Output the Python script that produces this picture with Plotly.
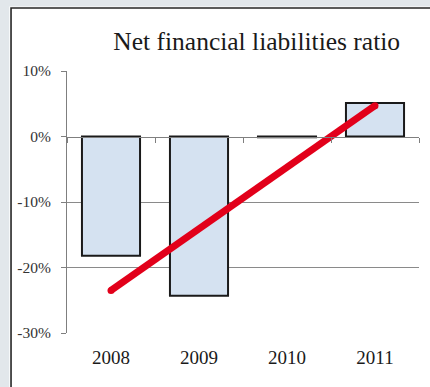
import plotly.graph_objects as go

# Net financial liabilities ratio, % of GDP
years = ["2008", "2009", "2010", "2011"]
ratio = [-18.2, -24.3, -0.1, 5.1]

# Linear trend across the period (start and end values)
trend_years = ["2008", "2011"]
trend_values = [-23.5, 4.7]

y_ticks = [10, 0, -10, -20, -30]
y_tick_labels = ["10%", "0%", "-10%", "-20%", "-30%"]
grid_values = [-10, -20]

SERIF = "Liberation Serif, Times New Roman, serif"
RED = "#e2001a"

fig = go.Figure()

fig.add_trace(go.Bar(
    x=years, y=ratio,
    marker=dict(color="#d5e2f1", line=dict(color="#1a1a1a", width=2)),
    width=0.66,
    xaxis="x", yaxis="y",
    hoverinfo="x+y",
))

fig.add_trace(go.Scatter(
    x=trend_years, y=trend_values,
    mode="lines+markers",
    line=dict(color=RED, width=7),
    marker=dict(color=RED, size=7, line=dict(width=0)),
    xaxis="x", yaxis="y",
    hoverinfo="skip",
))

# Carrier trace for the zero-line category axis
fig.add_trace(go.Scatter(
    x=years, y=[0] * len(years),
    mode="markers", marker=dict(opacity=0),
    xaxis="x2", yaxis="y",
    hoverinfo="skip", showlegend=False,
))

# Carrier trace for the grid-only axis
fig.add_trace(go.Scatter(
    x=years[:1], y=grid_values[:1],
    mode="markers", marker=dict(opacity=0),
    xaxis="x", yaxis="y2",
    hoverinfo="skip", showlegend=False,
))

yrange = [-30, 10]
zero_pos = (0 - yrange[0]) / (yrange[1] - yrange[0])

fig.update_layout(
    width=430, height=387,
    margin=dict(l=67, r=11, t=71, b=54),
    paper_bgcolor="#e2e7eb",
    plot_bgcolor="rgba(0,0,0,0)",
    showlegend=False,
    bargap=0.34,
    title=dict(
        text="Net financial liabilities ratio",
        font=dict(family=SERIF, size=25.5, color="#1a1a1a"),
        x=0.597, xanchor="center", y=0.893, yanchor="middle",
    ),
    xaxis=dict(
        type="category", categoryorder="array", categoryarray=years,
        range=[-0.5, 3.5],
        showline=False, showgrid=False, zeroline=False,
        ticks="", ticklabelstandoff=11,
        tickfont=dict(family=SERIF, size=19, color="#1a1a1a"),
    ),
    xaxis2=dict(
        type="category", categoryorder="array", categoryarray=years,
        range=[-0.5, 3.5],
        overlaying="x", anchor="free", position=zero_pos,
        showline=True, linecolor="#7f7f7f", linewidth=1.2,
        ticks="outside", tickson="boundaries", ticklen=5,
        tickcolor="#7f7f7f", tickwidth=1.2,
        showticklabels=False, showgrid=False, zeroline=False,
    ),
    yaxis=dict(
        range=yrange,
        tickvals=y_ticks, ticktext=y_tick_labels,
        showline=True, linecolor="#7f7f7f", linewidth=1.2,
        ticks="outside", ticklen=5, tickcolor="#7f7f7f", tickwidth=1.2,
        ticklabelstandoff=7,
        showgrid=False, zeroline=False,
        tickfont=dict(family=SERIF, size=15.5, color="#333333"),
    ),
    yaxis2=dict(
        range=yrange, overlaying="y",
        tickvals=grid_values, showticklabels=False,
        showgrid=True, gridcolor="#8a8a8a", gridwidth=1.2,
        showline=False, zeroline=False, ticks="",
    ),
    shapes=[
        # white panel framed by a thin dark border
        dict(type="rect", xref="paper", yref="paper",
             x0=-0.164, x1=1.30, y0=-0.40, y1=1.246,
             fillcolor="white", line=dict(width=0), layer="below"),
        dict(type="rect", xref="paper", yref="paper",
             x0=-0.159, x1=1.30, y0=-0.40, y1=1.2405,
             fillcolor="white", line=dict(color="#262626", width=1.6), layer="below"),
    ],
)

fig.write_html("out.html")
